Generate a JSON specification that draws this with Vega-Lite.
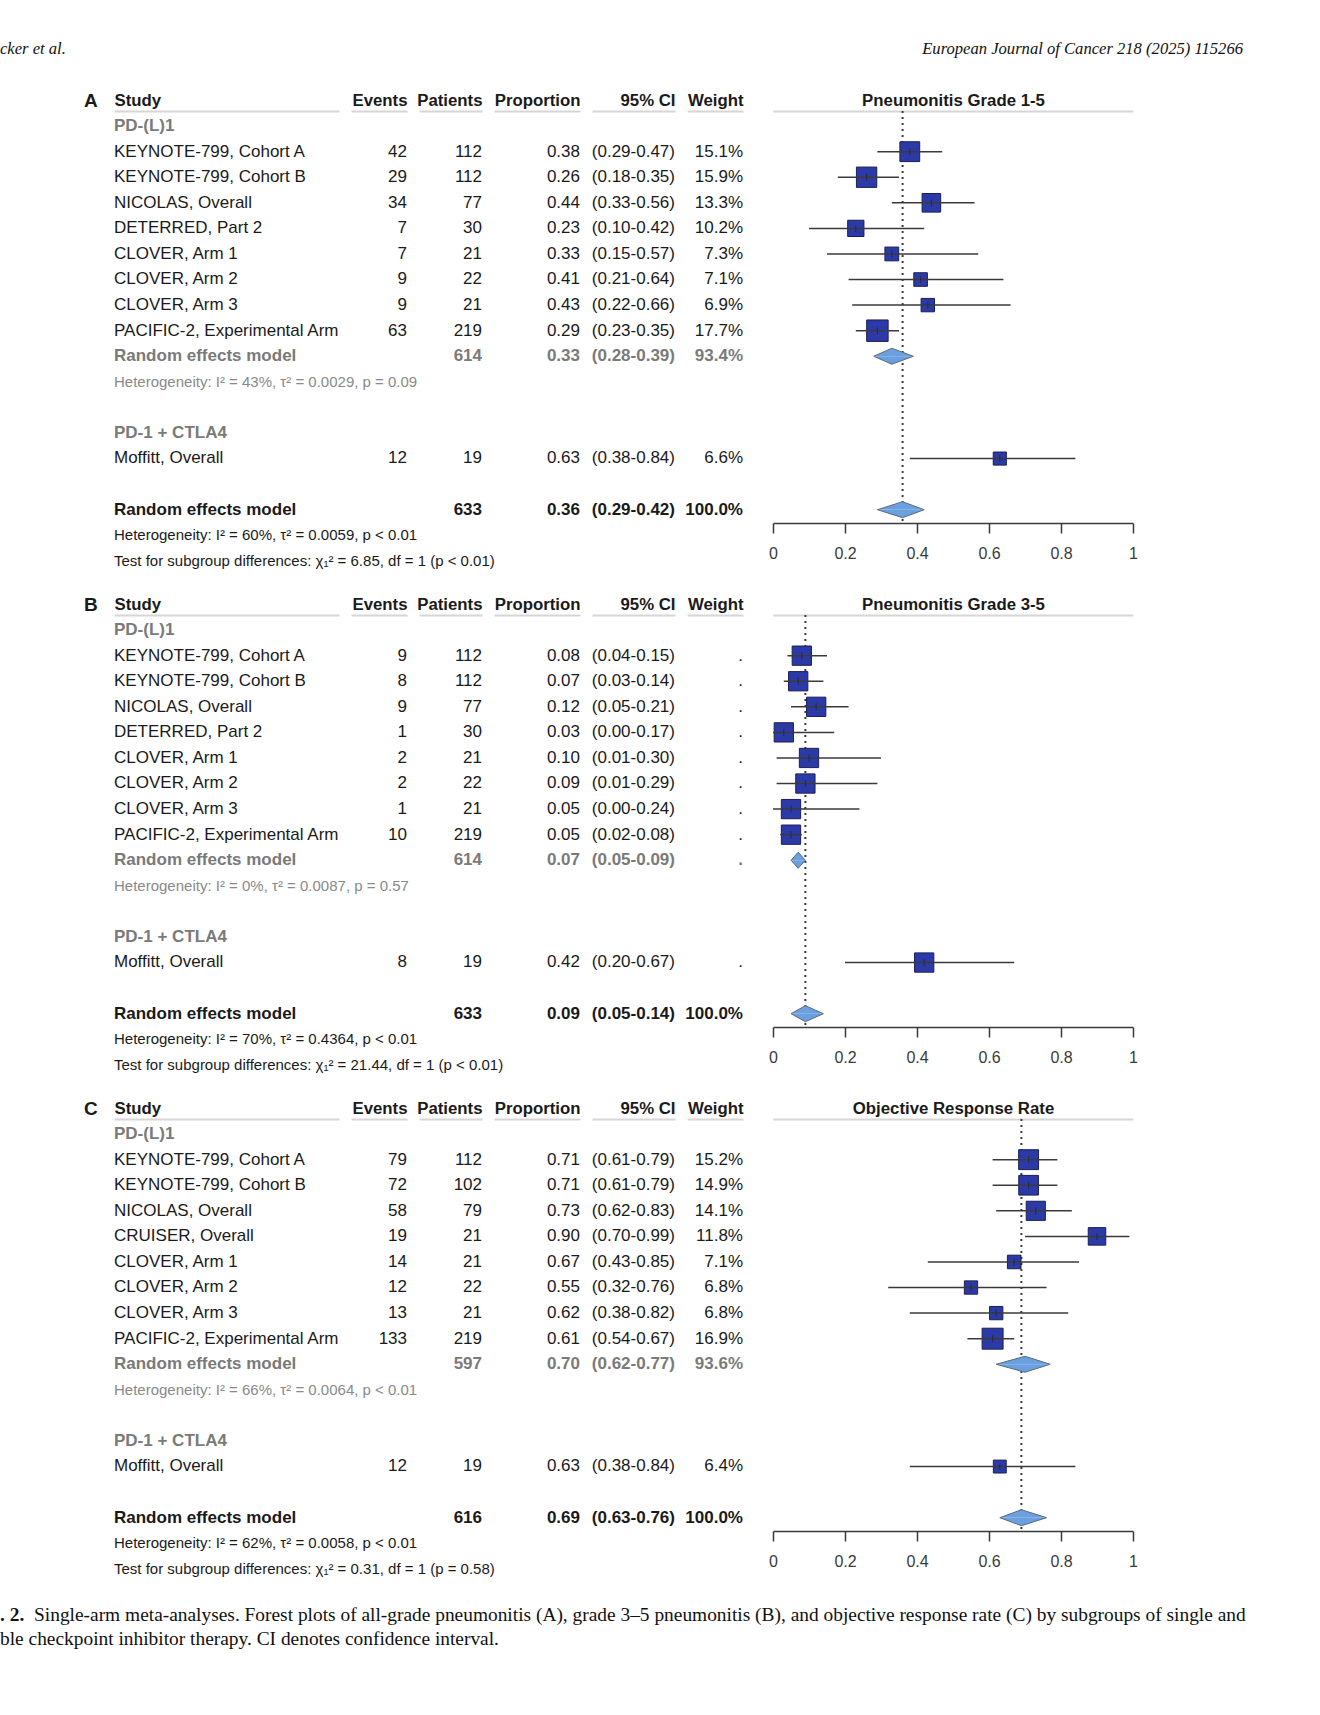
{
"$schema":"https://vega.github.io/schema/vega-lite/v6.json",
"padding":{"left":0,"top":17,"right":0,"bottom":0},
"background":"white",
"config":{
 "view":{"stroke":null},
 "font":"Liberation Sans",
 "text":{"baseline":"middle","font":"Liberation Sans","fontSize":17,"fill":"#1a1a1a"},
 "axisTop":{"labels":false,"ticks":false,"domainColor":"#d6d6d6","domainWidth":2,"grid":false,"titleFontSize":16.8,"titleFontWeight":"bold","titleColor":"#1a1a1a","titlePadding":6,"titleBaseline":"alphabetic","titleFont":"Liberation Sans"},
 "axisBottom":{"domainColor":"#3a3a3a","domainWidth":1.5,"tickColor":"#3a3a3a","tickWidth":1.5,"tickSize":10,"labelFontSize":16,"labelColor":"#3a3a3a","labelPadding":12,"labelFlush":false,"grid":false,"labelFont":"Liberation Sans"}
},
"datasets":{
 "page":[
  {"part":"left","text":"cker et al."},
  {"part":"right","text":"European Journal of Cancer 218 (2025) 115266"},
  {"part":"cap1","line":1,"lead":". 2.","text":"Single-arm meta-analyses. Forest plots of all-grade pneumonitis (A), grade 3–5 pneumonitis (B), and objective response rate (C) by subgroups of single and"},
  {"part":"cap2","line":2,"text":"ble checkpoint inhibitor therapy. CI denotes confidence interval."}
 ],
 "A":[
  {"row":0,"type":"letter","study":"A"},
  {"row":1,"type":"group","study":"PD-(L)1"},
  {"row":2,"type":"study","study":"KEYNOTE-799, Cohort A","events":42,"patients":112,"est":0.38,"lo":0.29,"hi":0.47,"ci":"(0.29-0.47)","weight":"15.1%","w":15.1},
  {"row":3,"type":"study","study":"KEYNOTE-799, Cohort B","events":29,"patients":112,"est":0.26,"lo":0.18,"hi":0.35,"ci":"(0.18-0.35)","weight":"15.9%","w":15.9},
  {"row":4,"type":"study","study":"NICOLAS, Overall","events":34,"patients":77,"est":0.44,"lo":0.33,"hi":0.56,"ci":"(0.33-0.56)","weight":"13.3%","w":13.3},
  {"row":5,"type":"study","study":"DETERRED, Part 2","events":7,"patients":30,"est":0.23,"lo":0.10,"hi":0.42,"ci":"(0.10-0.42)","weight":"10.2%","w":10.2},
  {"row":6,"type":"study","study":"CLOVER, Arm 1","events":7,"patients":21,"est":0.33,"lo":0.15,"hi":0.57,"ci":"(0.15-0.57)","weight":"7.3%","w":7.3},
  {"row":7,"type":"study","study":"CLOVER, Arm 2","events":9,"patients":22,"est":0.41,"lo":0.21,"hi":0.64,"ci":"(0.21-0.64)","weight":"7.1%","w":7.1},
  {"row":8,"type":"study","study":"CLOVER, Arm 3","events":9,"patients":21,"est":0.43,"lo":0.22,"hi":0.66,"ci":"(0.22-0.66)","weight":"6.9%","w":6.9},
  {"row":9,"type":"study","study":"PACIFIC-2, Experimental Arm","events":63,"patients":219,"est":0.29,"lo":0.23,"hi":0.35,"ci":"(0.23-0.35)","weight":"17.7%","w":17.7},
  {"row":10,"type":"submodel","study":"Random effects model","patients":614,"est":0.33,"lo":0.28,"hi":0.39,"ci":"(0.28-0.39)","weight":"93.4%"},
  {"row":11,"type":"subhet","study":"Heterogeneity: I² = 43%, τ² = 0.0029, p = 0.09"},
  {"row":13,"type":"group","study":"PD-1 + CTLA4"},
  {"row":14,"type":"study","study":"Moffitt, Overall","events":12,"patients":19,"est":0.63,"lo":0.38,"hi":0.84,"ci":"(0.38-0.84)","weight":"6.6%","w":6.6},
  {"row":16,"type":"model","study":"Random effects model","patients":633,"est":0.36,"lo":0.29,"hi":0.42,"ci":"(0.29-0.42)","weight":"100.0%"},
  {"row":17,"type":"het","study":"Heterogeneity: I² = 60%, τ² = 0.0059, p < 0.01"},
  {"row":18,"type":"test","study":"Test for subgroup differences: χ₁² = 6.85, df = 1 (p < 0.01)"}
 ],
 "B":[
  {"row":0,"type":"letter","study":"B"},
  {"row":1,"type":"group","study":"PD-(L)1"},
  {"row":2,"type":"study","study":"KEYNOTE-799, Cohort A","events":9,"patients":112,"est":0.08,"lo":0.04,"hi":0.15,"ci":"(0.04-0.15)","weight":".","w":14.3},
  {"row":3,"type":"study","study":"KEYNOTE-799, Cohort B","events":8,"patients":112,"est":0.07,"lo":0.03,"hi":0.14,"ci":"(0.03-0.14)","weight":".","w":14.3},
  {"row":4,"type":"study","study":"NICOLAS, Overall","events":9,"patients":77,"est":0.12,"lo":0.05,"hi":0.21,"ci":"(0.05-0.21)","weight":".","w":14.3},
  {"row":5,"type":"study","study":"DETERRED, Part 2","events":1,"patients":30,"est":0.03,"lo":0.00,"hi":0.17,"ci":"(0.00-0.17)","weight":".","w":14.3},
  {"row":6,"type":"study","study":"CLOVER, Arm 1","events":2,"patients":21,"est":0.10,"lo":0.01,"hi":0.30,"ci":"(0.01-0.30)","weight":".","w":14.3},
  {"row":7,"type":"study","study":"CLOVER, Arm 2","events":2,"patients":22,"est":0.09,"lo":0.01,"hi":0.29,"ci":"(0.01-0.29)","weight":".","w":14.3},
  {"row":8,"type":"study","study":"CLOVER, Arm 3","events":1,"patients":21,"est":0.05,"lo":0.00,"hi":0.24,"ci":"(0.00-0.24)","weight":".","w":14.3},
  {"row":9,"type":"study","study":"PACIFIC-2, Experimental Arm","events":10,"patients":219,"est":0.05,"lo":0.02,"hi":0.08,"ci":"(0.02-0.08)","weight":".","w":14.3},
  {"row":10,"type":"submodel","study":"Random effects model","patients":614,"est":0.07,"lo":0.05,"hi":0.09,"ci":"(0.05-0.09)","weight":"."},
  {"row":11,"type":"subhet","study":"Heterogeneity: I² = 0%, τ² = 0.0087, p = 0.57"},
  {"row":13,"type":"group","study":"PD-1 + CTLA4"},
  {"row":14,"type":"study","study":"Moffitt, Overall","events":8,"patients":19,"est":0.42,"lo":0.20,"hi":0.67,"ci":"(0.20-0.67)","weight":".","w":14.3},
  {"row":16,"type":"model","study":"Random effects model","patients":633,"est":0.09,"lo":0.05,"hi":0.14,"ci":"(0.05-0.14)","weight":"100.0%"},
  {"row":17,"type":"het","study":"Heterogeneity: I² = 70%, τ² = 0.4364, p < 0.01"},
  {"row":18,"type":"test","study":"Test for subgroup differences: χ₁² = 21.44, df = 1 (p < 0.01)"}
 ],
 "C":[
  {"row":0,"type":"letter","study":"C"},
  {"row":1,"type":"group","study":"PD-(L)1"},
  {"row":2,"type":"study","study":"KEYNOTE-799, Cohort A","events":79,"patients":112,"est":0.71,"lo":0.61,"hi":0.79,"ci":"(0.61-0.79)","weight":"15.2%","w":15.2},
  {"row":3,"type":"study","study":"KEYNOTE-799, Cohort B","events":72,"patients":102,"est":0.71,"lo":0.61,"hi":0.79,"ci":"(0.61-0.79)","weight":"14.9%","w":14.9},
  {"row":4,"type":"study","study":"NICOLAS, Overall","events":58,"patients":79,"est":0.73,"lo":0.62,"hi":0.83,"ci":"(0.62-0.83)","weight":"14.1%","w":14.1},
  {"row":5,"type":"study","study":"CRUISER, Overall","events":19,"patients":21,"est":0.90,"lo":0.70,"hi":0.99,"ci":"(0.70-0.99)","weight":"11.8%","w":11.8},
  {"row":6,"type":"study","study":"CLOVER, Arm 1","events":14,"patients":21,"est":0.67,"lo":0.43,"hi":0.85,"ci":"(0.43-0.85)","weight":"7.1%","w":7.1},
  {"row":7,"type":"study","study":"CLOVER, Arm 2","events":12,"patients":22,"est":0.55,"lo":0.32,"hi":0.76,"ci":"(0.32-0.76)","weight":"6.8%","w":6.8},
  {"row":8,"type":"study","study":"CLOVER, Arm 3","events":13,"patients":21,"est":0.62,"lo":0.38,"hi":0.82,"ci":"(0.38-0.82)","weight":"6.8%","w":6.8},
  {"row":9,"type":"study","study":"PACIFIC-2, Experimental Arm","events":133,"patients":219,"est":0.61,"lo":0.54,"hi":0.67,"ci":"(0.54-0.67)","weight":"16.9%","w":16.9},
  {"row":10,"type":"submodel","study":"Random effects model","patients":597,"est":0.70,"lo":0.62,"hi":0.77,"ci":"(0.62-0.77)","weight":"93.6%"},
  {"row":11,"type":"subhet","study":"Heterogeneity: I² = 66%, τ² = 0.0064, p < 0.01"},
  {"row":13,"type":"group","study":"PD-1 + CTLA4"},
  {"row":14,"type":"study","study":"Moffitt, Overall","events":12,"patients":19,"est":0.63,"lo":0.38,"hi":0.84,"ci":"(0.38-0.84)","weight":"6.4%","w":6.4},
  {"row":16,"type":"model","study":"Random effects model","patients":616,"est":0.69,"lo":0.63,"hi":0.76,"ci":"(0.63-0.76)","weight":"100.0%"},
  {"row":17,"type":"het","study":"Heterogeneity: I² = 62%, τ² = 0.0058, p < 0.01"},
  {"row":18,"type":"test","study":"Test for subgroup differences: χ₁² = 0.31, df = 1 (p = 0.58)"}
 ]
},
"spacing":10,
"resolve":{"scale":{"x":"independent","y":"independent"}},
"vconcat":[
 {"width":1243,"height":64,"data":{"name":"page"},
  "layer":[
   {"transform":[{"filter":"datum.part=='left'"}],"mark":{"type":"text","align":"left","font":"Liberation Serif","fontStyle":"italic","fontSize":16.6,"fill":"#111"},"encoding":{"text":{"field":"text"},"x":{"datum":0,"type":"quantitative","scale":{"domain":[0,1]},"axis":null}}},
   {"transform":[{"filter":"datum.part=='right'"}],"mark":{"type":"text","align":"right","font":"Liberation Serif","fontStyle":"italic","fontSize":16.6,"fill":"#111"},"encoding":{"text":{"field":"text"},"x":{"datum":1,"type":"quantitative","scale":{"domain":[0,1]},"axis":null}}}
  ]},
 {"vconcat":[
  {"hconcat":[
    {"width":102,"height":465,"data":{"name":"A"},"transform":[{"filter":"datum.type=='letter'"}],"mark":{"type":"text","fontSize":19,"fontWeight":"bold","align":"center"},"encoding":{"text":{"field":"study"},"x":{"datum":0.89,"type":"quantitative","scale":{"domain":[0,1]},"axis":null},"y":{"field":"row","type":"quantitative","scale":{"domain":[0.41,18.6],"reverse":true,"nice":false,"zero":false},"axis":null}}},
    {"width":225,"height":465,"data":{"name":"A"},
     "encoding":{"x":{"datum":0,"type":"quantitative","scale":{"domain":[0,1]},"axis":{"orient":"top","title":"Study","titleAnchor":"start","titleAlign":"left"}},"y":{"field":"row","type":"quantitative","scale":{"domain":[0.41,18.6],"reverse":true,"nice":false,"zero":false},"axis":null}},
     "layer":[
      {"transform":[{"filter":"datum.type=='study'"}],"mark":{"type":"text","align":"left"},"encoding":{"text":{"field":"study"}}},
      {"transform":[{"filter":"datum.type=='group'||datum.type=='submodel'"}],"mark":{"type":"text","align":"left","fontWeight":"bold","fill":"#7a7a7a"},"encoding":{"text":{"field":"study"}}},
      {"transform":[{"filter":"datum.type=='model'"}],"mark":{"type":"text","align":"left","fontWeight":"bold"},"encoding":{"text":{"field":"study"}}},
      {"transform":[{"filter":"datum.type=='subhet'"}],"mark":{"type":"text","align":"left","fontSize":15,"fill":"#8a8a8a"},"encoding":{"text":{"field":"study"}}},
      {"transform":[{"filter":"datum.type=='het'||datum.type=='test'"}],"mark":{"type":"text","align":"left","fontSize":15},"encoding":{"text":{"field":"study"}}}
     ]},
    {"width":56,"height":465,"data":{"name":"A"},
     "encoding":{"x":{"datum":1,"type":"quantitative","scale":{"domain":[0,1]},"axis":{"orient":"top","title":"Events","titleAnchor":"end","titleAlign":"right"}},"y":{"field":"row","type":"quantitative","scale":{"domain":[0.41,18.6],"reverse":true,"nice":false,"zero":false},"axis":null}},
     "layer":[
      {"transform":[{"filter":"datum.type=='study'"}],"mark":{"type":"text","align":"right"},"encoding":{"text":{"field":"events"}}}
     ]},
    {"width":63,"height":465,"data":{"name":"A"},
     "encoding":{"x":{"datum":1,"type":"quantitative","scale":{"domain":[0,1]},"axis":{"orient":"top","title":"Patients","titleAnchor":"end","titleAlign":"right"}},"y":{"field":"row","type":"quantitative","scale":{"domain":[0.41,18.6],"reverse":true,"nice":false,"zero":false},"axis":null}},
     "layer":[
      {"transform":[{"filter":"datum.type=='study'"}],"mark":{"type":"text","align":"right"},"encoding":{"text":{"field":"patients"}}},
      {"transform":[{"filter":"datum.type=='submodel'"}],"mark":{"type":"text","align":"right","fontWeight":"bold","fill":"#7a7a7a"},"encoding":{"text":{"field":"patients"}}},
      {"transform":[{"filter":"datum.type=='model'"}],"mark":{"type":"text","align":"right","fontWeight":"bold"},"encoding":{"text":{"field":"patients"}}}
     ]},
    {"width":86,"height":465,"data":{"name":"A"},
     "encoding":{"x":{"datum":1,"type":"quantitative","scale":{"domain":[0,1]},"axis":{"orient":"top","title":"Proportion","titleAnchor":"end","titleAlign":"right"}},"y":{"field":"row","type":"quantitative","scale":{"domain":[0.41,18.6],"reverse":true,"nice":false,"zero":false},"axis":null}},
     "layer":[
      {"transform":[{"filter":"datum.type=='study'"}],"mark":{"type":"text","align":"right"},"encoding":{"text":{"field":"est","type":"quantitative","format":".2f"}}},
      {"transform":[{"filter":"datum.type=='submodel'"}],"mark":{"type":"text","align":"right","fontWeight":"bold","fill":"#7a7a7a"},"encoding":{"text":{"field":"est","type":"quantitative","format":".2f"}}},
      {"transform":[{"filter":"datum.type=='model'"}],"mark":{"type":"text","align":"right","fontWeight":"bold"},"encoding":{"text":{"field":"est","type":"quantitative","format":".2f"}}}
     ]},
    {"width":83,"height":465,"data":{"name":"A"},
     "encoding":{"x":{"datum":1,"type":"quantitative","scale":{"domain":[0,1]},"axis":{"orient":"top","title":"95% CI","titleAnchor":"end","titleAlign":"right"}},"y":{"field":"row","type":"quantitative","scale":{"domain":[0.41,18.6],"reverse":true,"nice":false,"zero":false},"axis":null}},
     "layer":[
      {"transform":[{"filter":"datum.type=='study'"}],"mark":{"type":"text","align":"right"},"encoding":{"text":{"field":"ci"}}},
      {"transform":[{"filter":"datum.type=='submodel'"}],"mark":{"type":"text","align":"right","fontWeight":"bold","fill":"#7a7a7a"},"encoding":{"text":{"field":"ci"}}},
      {"transform":[{"filter":"datum.type=='model'"}],"mark":{"type":"text","align":"right","fontWeight":"bold"},"encoding":{"text":{"field":"ci"}}}
     ]},
    {"width":56,"height":465,"data":{"name":"A"},
     "encoding":{"x":{"datum":1,"type":"quantitative","scale":{"domain":[0,1]},"axis":{"orient":"top","title":"Weight","titleAnchor":"end","titleAlign":"right"}},"y":{"field":"row","type":"quantitative","scale":{"domain":[0.41,18.6],"reverse":true,"nice":false,"zero":false},"axis":null}},
     "layer":[
      {"transform":[{"filter":"datum.type=='study'"}],"mark":{"type":"text","align":"right"},"encoding":{"text":{"field":"weight"}}},
      {"transform":[{"filter":"datum.type=='submodel'"}],"mark":{"type":"text","align":"right","fontWeight":"bold","fill":"#7a7a7a"},"encoding":{"text":{"field":"weight"}}},
      {"transform":[{"filter":"datum.type=='model'"}],"mark":{"type":"text","align":"right","fontWeight":"bold"},"encoding":{"text":{"field":"weight"}}}
     ]},
    {"width":6,"height":10,"data":{"values":[{}]},"mark":{"type":"text"},"encoding":{"text":{"value":""}}},
   {"width":360,"height":412,"data":{"name":"A"},
    "resolve":{"axis":{"x":"independent"},"scale":{"size":"independent"}},
    "layer":[
     {"transform":[{"filter":"datum.type=='model'"}],"mark":{"type":"rule","strokeDash":[2,4],"color":"#3a3a3a","strokeWidth":2},
      "encoding":{"x":{"field":"est","type":"quantitative","scale":{"domain":[0,1],"nice":false,"zero":false},"axis":{"orient":"top","title":"Pneumonitis Grade 1-5"}}}},
     {"transform":[{"filter":"datum.type=='study'"}],"mark":{"type":"point","shape":"square","filled":true,"color":"#2b3aa6","stroke":"#1b1f55","strokeWidth":1,"opacity":1},
      "encoding":{"x":{"field":"est","type":"quantitative","scale":{"domain":[0,1],"nice":false,"zero":false},"axis":{"orient":"bottom","values":[0,0.2,0.4,0.6,0.8,1],"format":"~g","title":null}},
       "y":{"field":"row","type":"quantitative","scale":{"domain":[0.41,16.52],"reverse":true,"nice":false,"zero":false},"axis":null},
       "size":{"field":"w","type":"quantitative","scale":{"type":"linear","domain":[0,20],"range":[0,520]},"legend":null}}},
     {"transform":[{"filter":"datum.type=='study'"}],"mark":{"type":"rule","color":"#3a3a3a","strokeWidth":1.5},
      "encoding":{"x":{"field":"lo","type":"quantitative","scale":{"domain":[0,1],"nice":false,"zero":false},"axis":null},"x2":{"field":"hi"},
       "y":{"field":"row","type":"quantitative","scale":{"domain":[0.41,16.52],"reverse":true,"nice":false,"zero":false},"axis":null}}},
     {"transform":[{"filter":"datum.type=='study'"}],"mark":{"type":"tick","orient":"vertical","color":"#222","thickness":1,"size":7},
      "encoding":{"x":{"field":"est","type":"quantitative","scale":{"domain":[0,1],"nice":false,"zero":false},"axis":null},
       "y":{"field":"row","type":"quantitative","scale":{"domain":[0.41,16.52],"reverse":true,"nice":false,"zero":false},"axis":null}}},
     {"transform":[{"filter":"datum.type=='submodel'||datum.type=='model'"},{"fold":["lo","est","hi"],"as":["k","v"]}],
      "mark":{"type":"line","filled":true,"interpolate":"linear-closed","color":"#6a9fe0","strokeWidth":0,"yOffset":{"expr":"datum.k=='est'?-8:0"}},
      "encoding":{"x":{"field":"v","type":"quantitative","scale":{"domain":[0,1],"nice":false,"zero":false},"axis":null},
       "y":{"field":"row","type":"quantitative","scale":{"domain":[0.41,16.52],"reverse":true,"nice":false,"zero":false},"axis":null},
       "detail":{"field":"row"},"order":{"field":"v","type":"quantitative"}}},
     {"transform":[{"filter":"datum.type=='submodel'||datum.type=='model'"},{"fold":["lo","est","hi"],"as":["k","v"]}],
      "mark":{"type":"line","filled":true,"interpolate":"linear-closed","color":"#6a9fe0","strokeWidth":0,"yOffset":{"expr":"datum.k=='est'?8:0"}},
      "encoding":{"x":{"field":"v","type":"quantitative","scale":{"domain":[0,1],"nice":false,"zero":false},"axis":null},
       "y":{"field":"row","type":"quantitative","scale":{"domain":[0.41,16.52],"reverse":true,"nice":false,"zero":false},"axis":null},
       "detail":{"field":"row"},"order":{"field":"v","type":"quantitative"}}},
     {"transform":[{"filter":"datum.type=='submodel'||datum.type=='model'"},{"fold":["lo","est","hi"],"as":["k","v"]}],
      "mark":{"type":"line","color":"#5d6b7a","strokeWidth":1,"yOffset":{"expr":"datum.k=='est'?-8:0"}},
      "encoding":{"x":{"field":"v","type":"quantitative","scale":{"domain":[0,1],"nice":false,"zero":false},"axis":null},
       "y":{"field":"row","type":"quantitative","scale":{"domain":[0.41,16.52],"reverse":true,"nice":false,"zero":false},"axis":null},
       "detail":{"field":"row"},"order":{"field":"v","type":"quantitative"}}},
     {"transform":[{"filter":"datum.type=='submodel'||datum.type=='model'"},{"fold":["lo","est","hi"],"as":["k","v"]}],
      "mark":{"type":"line","color":"#5d6b7a","strokeWidth":1,"yOffset":{"expr":"datum.k=='est'?8:0"}},
      "encoding":{"x":{"field":"v","type":"quantitative","scale":{"domain":[0,1],"nice":false,"zero":false},"axis":null},
       "y":{"field":"row","type":"quantitative","scale":{"domain":[0.41,16.52],"reverse":true,"nice":false,"zero":false},"axis":null},
       "detail":{"field":"row"},"order":{"field":"v","type":"quantitative"}}}
    ]}
  ],"spacing":12,"bounds":"flush","resolve":{"scale":{"x":"independent","y":"independent"}}},

  {"hconcat":[
    {"width":102,"height":465,"data":{"name":"B"},"transform":[{"filter":"datum.type=='letter'"}],"mark":{"type":"text","fontSize":19,"fontWeight":"bold","align":"center"},"encoding":{"text":{"field":"study"},"x":{"datum":0.89,"type":"quantitative","scale":{"domain":[0,1]},"axis":null},"y":{"field":"row","type":"quantitative","scale":{"domain":[0.41,18.6],"reverse":true,"nice":false,"zero":false},"axis":null}}},
    {"width":225,"height":465,"data":{"name":"B"},
     "encoding":{"x":{"datum":0,"type":"quantitative","scale":{"domain":[0,1]},"axis":{"orient":"top","title":"Study","titleAnchor":"start","titleAlign":"left"}},"y":{"field":"row","type":"quantitative","scale":{"domain":[0.41,18.6],"reverse":true,"nice":false,"zero":false},"axis":null}},
     "layer":[
      {"transform":[{"filter":"datum.type=='study'"}],"mark":{"type":"text","align":"left"},"encoding":{"text":{"field":"study"}}},
      {"transform":[{"filter":"datum.type=='group'||datum.type=='submodel'"}],"mark":{"type":"text","align":"left","fontWeight":"bold","fill":"#7a7a7a"},"encoding":{"text":{"field":"study"}}},
      {"transform":[{"filter":"datum.type=='model'"}],"mark":{"type":"text","align":"left","fontWeight":"bold"},"encoding":{"text":{"field":"study"}}},
      {"transform":[{"filter":"datum.type=='subhet'"}],"mark":{"type":"text","align":"left","fontSize":15,"fill":"#8a8a8a"},"encoding":{"text":{"field":"study"}}},
      {"transform":[{"filter":"datum.type=='het'||datum.type=='test'"}],"mark":{"type":"text","align":"left","fontSize":15},"encoding":{"text":{"field":"study"}}}
     ]},
    {"width":56,"height":465,"data":{"name":"B"},
     "encoding":{"x":{"datum":1,"type":"quantitative","scale":{"domain":[0,1]},"axis":{"orient":"top","title":"Events","titleAnchor":"end","titleAlign":"right"}},"y":{"field":"row","type":"quantitative","scale":{"domain":[0.41,18.6],"reverse":true,"nice":false,"zero":false},"axis":null}},
     "layer":[
      {"transform":[{"filter":"datum.type=='study'"}],"mark":{"type":"text","align":"right"},"encoding":{"text":{"field":"events"}}}
     ]},
    {"width":63,"height":465,"data":{"name":"B"},
     "encoding":{"x":{"datum":1,"type":"quantitative","scale":{"domain":[0,1]},"axis":{"orient":"top","title":"Patients","titleAnchor":"end","titleAlign":"right"}},"y":{"field":"row","type":"quantitative","scale":{"domain":[0.41,18.6],"reverse":true,"nice":false,"zero":false},"axis":null}},
     "layer":[
      {"transform":[{"filter":"datum.type=='study'"}],"mark":{"type":"text","align":"right"},"encoding":{"text":{"field":"patients"}}},
      {"transform":[{"filter":"datum.type=='submodel'"}],"mark":{"type":"text","align":"right","fontWeight":"bold","fill":"#7a7a7a"},"encoding":{"text":{"field":"patients"}}},
      {"transform":[{"filter":"datum.type=='model'"}],"mark":{"type":"text","align":"right","fontWeight":"bold"},"encoding":{"text":{"field":"patients"}}}
     ]},
    {"width":86,"height":465,"data":{"name":"B"},
     "encoding":{"x":{"datum":1,"type":"quantitative","scale":{"domain":[0,1]},"axis":{"orient":"top","title":"Proportion","titleAnchor":"end","titleAlign":"right"}},"y":{"field":"row","type":"quantitative","scale":{"domain":[0.41,18.6],"reverse":true,"nice":false,"zero":false},"axis":null}},
     "layer":[
      {"transform":[{"filter":"datum.type=='study'"}],"mark":{"type":"text","align":"right"},"encoding":{"text":{"field":"est","type":"quantitative","format":".2f"}}},
      {"transform":[{"filter":"datum.type=='submodel'"}],"mark":{"type":"text","align":"right","fontWeight":"bold","fill":"#7a7a7a"},"encoding":{"text":{"field":"est","type":"quantitative","format":".2f"}}},
      {"transform":[{"filter":"datum.type=='model'"}],"mark":{"type":"text","align":"right","fontWeight":"bold"},"encoding":{"text":{"field":"est","type":"quantitative","format":".2f"}}}
     ]},
    {"width":83,"height":465,"data":{"name":"B"},
     "encoding":{"x":{"datum":1,"type":"quantitative","scale":{"domain":[0,1]},"axis":{"orient":"top","title":"95% CI","titleAnchor":"end","titleAlign":"right"}},"y":{"field":"row","type":"quantitative","scale":{"domain":[0.41,18.6],"reverse":true,"nice":false,"zero":false},"axis":null}},
     "layer":[
      {"transform":[{"filter":"datum.type=='study'"}],"mark":{"type":"text","align":"right"},"encoding":{"text":{"field":"ci"}}},
      {"transform":[{"filter":"datum.type=='submodel'"}],"mark":{"type":"text","align":"right","fontWeight":"bold","fill":"#7a7a7a"},"encoding":{"text":{"field":"ci"}}},
      {"transform":[{"filter":"datum.type=='model'"}],"mark":{"type":"text","align":"right","fontWeight":"bold"},"encoding":{"text":{"field":"ci"}}}
     ]},
    {"width":56,"height":465,"data":{"name":"B"},
     "encoding":{"x":{"datum":1,"type":"quantitative","scale":{"domain":[0,1]},"axis":{"orient":"top","title":"Weight","titleAnchor":"end","titleAlign":"right"}},"y":{"field":"row","type":"quantitative","scale":{"domain":[0.41,18.6],"reverse":true,"nice":false,"zero":false},"axis":null}},
     "layer":[
      {"transform":[{"filter":"datum.type=='study'"}],"mark":{"type":"text","align":"right"},"encoding":{"text":{"field":"weight"}}},
      {"transform":[{"filter":"datum.type=='submodel'"}],"mark":{"type":"text","align":"right","fontWeight":"bold","fill":"#7a7a7a"},"encoding":{"text":{"field":"weight"}}},
      {"transform":[{"filter":"datum.type=='model'"}],"mark":{"type":"text","align":"right","fontWeight":"bold"},"encoding":{"text":{"field":"weight"}}}
     ]},
    {"width":6,"height":10,"data":{"values":[{}]},"mark":{"type":"text"},"encoding":{"text":{"value":""}}},
   {"width":360,"height":412,"data":{"name":"B"},
    "resolve":{"axis":{"x":"independent"},"scale":{"size":"independent"}},
    "layer":[
     {"transform":[{"filter":"datum.type=='model'"}],"mark":{"type":"rule","strokeDash":[2,4],"color":"#3a3a3a","strokeWidth":2},
      "encoding":{"x":{"field":"est","type":"quantitative","scale":{"domain":[0,1],"nice":false,"zero":false},"axis":{"orient":"top","title":"Pneumonitis Grade 3-5"}}}},
     {"transform":[{"filter":"datum.type=='study'"}],"mark":{"type":"point","shape":"square","filled":true,"color":"#2b3aa6","stroke":"#1b1f55","strokeWidth":1,"opacity":1},
      "encoding":{"x":{"field":"est","type":"quantitative","scale":{"domain":[0,1],"nice":false,"zero":false},"axis":{"orient":"bottom","values":[0,0.2,0.4,0.6,0.8,1],"format":"~g","title":null}},
       "y":{"field":"row","type":"quantitative","scale":{"domain":[0.41,16.52],"reverse":true,"nice":false,"zero":false},"axis":null},
       "size":{"field":"w","type":"quantitative","scale":{"type":"linear","domain":[0,20],"range":[0,520]},"legend":null}}},
     {"transform":[{"filter":"datum.type=='study'"}],"mark":{"type":"rule","color":"#3a3a3a","strokeWidth":1.5},
      "encoding":{"x":{"field":"lo","type":"quantitative","scale":{"domain":[0,1],"nice":false,"zero":false},"axis":null},"x2":{"field":"hi"},
       "y":{"field":"row","type":"quantitative","scale":{"domain":[0.41,16.52],"reverse":true,"nice":false,"zero":false},"axis":null}}},
     {"transform":[{"filter":"datum.type=='study'"}],"mark":{"type":"tick","orient":"vertical","color":"#222","thickness":1,"size":7},
      "encoding":{"x":{"field":"est","type":"quantitative","scale":{"domain":[0,1],"nice":false,"zero":false},"axis":null},
       "y":{"field":"row","type":"quantitative","scale":{"domain":[0.41,16.52],"reverse":true,"nice":false,"zero":false},"axis":null}}},
     {"transform":[{"filter":"datum.type=='submodel'||datum.type=='model'"},{"fold":["lo","est","hi"],"as":["k","v"]}],
      "mark":{"type":"line","filled":true,"interpolate":"linear-closed","color":"#6a9fe0","strokeWidth":0,"yOffset":{"expr":"datum.k=='est'?-8:0"}},
      "encoding":{"x":{"field":"v","type":"quantitative","scale":{"domain":[0,1],"nice":false,"zero":false},"axis":null},
       "y":{"field":"row","type":"quantitative","scale":{"domain":[0.41,16.52],"reverse":true,"nice":false,"zero":false},"axis":null},
       "detail":{"field":"row"},"order":{"field":"v","type":"quantitative"}}},
     {"transform":[{"filter":"datum.type=='submodel'||datum.type=='model'"},{"fold":["lo","est","hi"],"as":["k","v"]}],
      "mark":{"type":"line","filled":true,"interpolate":"linear-closed","color":"#6a9fe0","strokeWidth":0,"yOffset":{"expr":"datum.k=='est'?8:0"}},
      "encoding":{"x":{"field":"v","type":"quantitative","scale":{"domain":[0,1],"nice":false,"zero":false},"axis":null},
       "y":{"field":"row","type":"quantitative","scale":{"domain":[0.41,16.52],"reverse":true,"nice":false,"zero":false},"axis":null},
       "detail":{"field":"row"},"order":{"field":"v","type":"quantitative"}}},
     {"transform":[{"filter":"datum.type=='submodel'||datum.type=='model'"},{"fold":["lo","est","hi"],"as":["k","v"]}],
      "mark":{"type":"line","color":"#5d6b7a","strokeWidth":1,"yOffset":{"expr":"datum.k=='est'?-8:0"}},
      "encoding":{"x":{"field":"v","type":"quantitative","scale":{"domain":[0,1],"nice":false,"zero":false},"axis":null},
       "y":{"field":"row","type":"quantitative","scale":{"domain":[0.41,16.52],"reverse":true,"nice":false,"zero":false},"axis":null},
       "detail":{"field":"row"},"order":{"field":"v","type":"quantitative"}}},
     {"transform":[{"filter":"datum.type=='submodel'||datum.type=='model'"},{"fold":["lo","est","hi"],"as":["k","v"]}],
      "mark":{"type":"line","color":"#5d6b7a","strokeWidth":1,"yOffset":{"expr":"datum.k=='est'?8:0"}},
      "encoding":{"x":{"field":"v","type":"quantitative","scale":{"domain":[0,1],"nice":false,"zero":false},"axis":null},
       "y":{"field":"row","type":"quantitative","scale":{"domain":[0.41,16.52],"reverse":true,"nice":false,"zero":false},"axis":null},
       "detail":{"field":"row"},"order":{"field":"v","type":"quantitative"}}}
    ]}
  ],"spacing":12,"bounds":"flush","resolve":{"scale":{"x":"independent","y":"independent"}}},

  {"hconcat":[
    {"width":102,"height":465,"data":{"name":"C"},"transform":[{"filter":"datum.type=='letter'"}],"mark":{"type":"text","fontSize":19,"fontWeight":"bold","align":"center"},"encoding":{"text":{"field":"study"},"x":{"datum":0.89,"type":"quantitative","scale":{"domain":[0,1]},"axis":null},"y":{"field":"row","type":"quantitative","scale":{"domain":[0.41,18.6],"reverse":true,"nice":false,"zero":false},"axis":null}}},
    {"width":225,"height":465,"data":{"name":"C"},
     "encoding":{"x":{"datum":0,"type":"quantitative","scale":{"domain":[0,1]},"axis":{"orient":"top","title":"Study","titleAnchor":"start","titleAlign":"left"}},"y":{"field":"row","type":"quantitative","scale":{"domain":[0.41,18.6],"reverse":true,"nice":false,"zero":false},"axis":null}},
     "layer":[
      {"transform":[{"filter":"datum.type=='study'"}],"mark":{"type":"text","align":"left"},"encoding":{"text":{"field":"study"}}},
      {"transform":[{"filter":"datum.type=='group'||datum.type=='submodel'"}],"mark":{"type":"text","align":"left","fontWeight":"bold","fill":"#7a7a7a"},"encoding":{"text":{"field":"study"}}},
      {"transform":[{"filter":"datum.type=='model'"}],"mark":{"type":"text","align":"left","fontWeight":"bold"},"encoding":{"text":{"field":"study"}}},
      {"transform":[{"filter":"datum.type=='subhet'"}],"mark":{"type":"text","align":"left","fontSize":15,"fill":"#8a8a8a"},"encoding":{"text":{"field":"study"}}},
      {"transform":[{"filter":"datum.type=='het'||datum.type=='test'"}],"mark":{"type":"text","align":"left","fontSize":15},"encoding":{"text":{"field":"study"}}}
     ]},
    {"width":56,"height":465,"data":{"name":"C"},
     "encoding":{"x":{"datum":1,"type":"quantitative","scale":{"domain":[0,1]},"axis":{"orient":"top","title":"Events","titleAnchor":"end","titleAlign":"right"}},"y":{"field":"row","type":"quantitative","scale":{"domain":[0.41,18.6],"reverse":true,"nice":false,"zero":false},"axis":null}},
     "layer":[
      {"transform":[{"filter":"datum.type=='study'"}],"mark":{"type":"text","align":"right"},"encoding":{"text":{"field":"events"}}}
     ]},
    {"width":63,"height":465,"data":{"name":"C"},
     "encoding":{"x":{"datum":1,"type":"quantitative","scale":{"domain":[0,1]},"axis":{"orient":"top","title":"Patients","titleAnchor":"end","titleAlign":"right"}},"y":{"field":"row","type":"quantitative","scale":{"domain":[0.41,18.6],"reverse":true,"nice":false,"zero":false},"axis":null}},
     "layer":[
      {"transform":[{"filter":"datum.type=='study'"}],"mark":{"type":"text","align":"right"},"encoding":{"text":{"field":"patients"}}},
      {"transform":[{"filter":"datum.type=='submodel'"}],"mark":{"type":"text","align":"right","fontWeight":"bold","fill":"#7a7a7a"},"encoding":{"text":{"field":"patients"}}},
      {"transform":[{"filter":"datum.type=='model'"}],"mark":{"type":"text","align":"right","fontWeight":"bold"},"encoding":{"text":{"field":"patients"}}}
     ]},
    {"width":86,"height":465,"data":{"name":"C"},
     "encoding":{"x":{"datum":1,"type":"quantitative","scale":{"domain":[0,1]},"axis":{"orient":"top","title":"Proportion","titleAnchor":"end","titleAlign":"right"}},"y":{"field":"row","type":"quantitative","scale":{"domain":[0.41,18.6],"reverse":true,"nice":false,"zero":false},"axis":null}},
     "layer":[
      {"transform":[{"filter":"datum.type=='study'"}],"mark":{"type":"text","align":"right"},"encoding":{"text":{"field":"est","type":"quantitative","format":".2f"}}},
      {"transform":[{"filter":"datum.type=='submodel'"}],"mark":{"type":"text","align":"right","fontWeight":"bold","fill":"#7a7a7a"},"encoding":{"text":{"field":"est","type":"quantitative","format":".2f"}}},
      {"transform":[{"filter":"datum.type=='model'"}],"mark":{"type":"text","align":"right","fontWeight":"bold"},"encoding":{"text":{"field":"est","type":"quantitative","format":".2f"}}}
     ]},
    {"width":83,"height":465,"data":{"name":"C"},
     "encoding":{"x":{"datum":1,"type":"quantitative","scale":{"domain":[0,1]},"axis":{"orient":"top","title":"95% CI","titleAnchor":"end","titleAlign":"right"}},"y":{"field":"row","type":"quantitative","scale":{"domain":[0.41,18.6],"reverse":true,"nice":false,"zero":false},"axis":null}},
     "layer":[
      {"transform":[{"filter":"datum.type=='study'"}],"mark":{"type":"text","align":"right"},"encoding":{"text":{"field":"ci"}}},
      {"transform":[{"filter":"datum.type=='submodel'"}],"mark":{"type":"text","align":"right","fontWeight":"bold","fill":"#7a7a7a"},"encoding":{"text":{"field":"ci"}}},
      {"transform":[{"filter":"datum.type=='model'"}],"mark":{"type":"text","align":"right","fontWeight":"bold"},"encoding":{"text":{"field":"ci"}}}
     ]},
    {"width":56,"height":465,"data":{"name":"C"},
     "encoding":{"x":{"datum":1,"type":"quantitative","scale":{"domain":[0,1]},"axis":{"orient":"top","title":"Weight","titleAnchor":"end","titleAlign":"right"}},"y":{"field":"row","type":"quantitative","scale":{"domain":[0.41,18.6],"reverse":true,"nice":false,"zero":false},"axis":null}},
     "layer":[
      {"transform":[{"filter":"datum.type=='study'"}],"mark":{"type":"text","align":"right"},"encoding":{"text":{"field":"weight"}}},
      {"transform":[{"filter":"datum.type=='submodel'"}],"mark":{"type":"text","align":"right","fontWeight":"bold","fill":"#7a7a7a"},"encoding":{"text":{"field":"weight"}}},
      {"transform":[{"filter":"datum.type=='model'"}],"mark":{"type":"text","align":"right","fontWeight":"bold"},"encoding":{"text":{"field":"weight"}}}
     ]},
    {"width":6,"height":10,"data":{"values":[{}]},"mark":{"type":"text"},"encoding":{"text":{"value":""}}},
   {"width":360,"height":412,"data":{"name":"C"},
    "resolve":{"axis":{"x":"independent"},"scale":{"size":"independent"}},
    "layer":[
     {"transform":[{"filter":"datum.type=='model'"}],"mark":{"type":"rule","strokeDash":[2,4],"color":"#3a3a3a","strokeWidth":2},
      "encoding":{"x":{"field":"est","type":"quantitative","scale":{"domain":[0,1],"nice":false,"zero":false},"axis":{"orient":"top","title":"Objective Response Rate"}}}},
     {"transform":[{"filter":"datum.type=='study'"}],"mark":{"type":"point","shape":"square","filled":true,"color":"#2b3aa6","stroke":"#1b1f55","strokeWidth":1,"opacity":1},
      "encoding":{"x":{"field":"est","type":"quantitative","scale":{"domain":[0,1],"nice":false,"zero":false},"axis":{"orient":"bottom","values":[0,0.2,0.4,0.6,0.8,1],"format":"~g","title":null}},
       "y":{"field":"row","type":"quantitative","scale":{"domain":[0.41,16.52],"reverse":true,"nice":false,"zero":false},"axis":null},
       "size":{"field":"w","type":"quantitative","scale":{"type":"linear","domain":[0,20],"range":[0,520]},"legend":null}}},
     {"transform":[{"filter":"datum.type=='study'"}],"mark":{"type":"rule","color":"#3a3a3a","strokeWidth":1.5},
      "encoding":{"x":{"field":"lo","type":"quantitative","scale":{"domain":[0,1],"nice":false,"zero":false},"axis":null},"x2":{"field":"hi"},
       "y":{"field":"row","type":"quantitative","scale":{"domain":[0.41,16.52],"reverse":true,"nice":false,"zero":false},"axis":null}}},
     {"transform":[{"filter":"datum.type=='study'"}],"mark":{"type":"tick","orient":"vertical","color":"#222","thickness":1,"size":7},
      "encoding":{"x":{"field":"est","type":"quantitative","scale":{"domain":[0,1],"nice":false,"zero":false},"axis":null},
       "y":{"field":"row","type":"quantitative","scale":{"domain":[0.41,16.52],"reverse":true,"nice":false,"zero":false},"axis":null}}},
     {"transform":[{"filter":"datum.type=='submodel'||datum.type=='model'"},{"fold":["lo","est","hi"],"as":["k","v"]}],
      "mark":{"type":"line","filled":true,"interpolate":"linear-closed","color":"#6a9fe0","strokeWidth":0,"yOffset":{"expr":"datum.k=='est'?-8:0"}},
      "encoding":{"x":{"field":"v","type":"quantitative","scale":{"domain":[0,1],"nice":false,"zero":false},"axis":null},
       "y":{"field":"row","type":"quantitative","scale":{"domain":[0.41,16.52],"reverse":true,"nice":false,"zero":false},"axis":null},
       "detail":{"field":"row"},"order":{"field":"v","type":"quantitative"}}},
     {"transform":[{"filter":"datum.type=='submodel'||datum.type=='model'"},{"fold":["lo","est","hi"],"as":["k","v"]}],
      "mark":{"type":"line","filled":true,"interpolate":"linear-closed","color":"#6a9fe0","strokeWidth":0,"yOffset":{"expr":"datum.k=='est'?8:0"}},
      "encoding":{"x":{"field":"v","type":"quantitative","scale":{"domain":[0,1],"nice":false,"zero":false},"axis":null},
       "y":{"field":"row","type":"quantitative","scale":{"domain":[0.41,16.52],"reverse":true,"nice":false,"zero":false},"axis":null},
       "detail":{"field":"row"},"order":{"field":"v","type":"quantitative"}}},
     {"transform":[{"filter":"datum.type=='submodel'||datum.type=='model'"},{"fold":["lo","est","hi"],"as":["k","v"]}],
      "mark":{"type":"line","color":"#5d6b7a","strokeWidth":1,"yOffset":{"expr":"datum.k=='est'?-8:0"}},
      "encoding":{"x":{"field":"v","type":"quantitative","scale":{"domain":[0,1],"nice":false,"zero":false},"axis":null},
       "y":{"field":"row","type":"quantitative","scale":{"domain":[0.41,16.52],"reverse":true,"nice":false,"zero":false},"axis":null},
       "detail":{"field":"row"},"order":{"field":"v","type":"quantitative"}}},
     {"transform":[{"filter":"datum.type=='submodel'||datum.type=='model'"},{"fold":["lo","est","hi"],"as":["k","v"]}],
      "mark":{"type":"line","color":"#5d6b7a","strokeWidth":1,"yOffset":{"expr":"datum.k=='est'?8:0"}},
      "encoding":{"x":{"field":"v","type":"quantitative","scale":{"domain":[0,1],"nice":false,"zero":false},"axis":null},
       "y":{"field":"row","type":"quantitative","scale":{"domain":[0.41,16.52],"reverse":true,"nice":false,"zero":false},"axis":null},
       "detail":{"field":"row"},"order":{"field":"v","type":"quantitative"}}}
    ]}
  ],"spacing":12,"bounds":"flush","resolve":{"scale":{"x":"independent","y":"independent"}}}
 ],"spacing":19,"resolve":{"scale":{"x":"independent","y":"independent"}}},
 {"width":1238,"height":48,"data":{"name":"page"},
  "encoding":{"y":{"field":"line","type":"quantitative","scale":{"domain":[0.125,2.125],"reverse":true,"nice":false,"zero":false},"axis":null}},
  "layer":[
   {"transform":[{"filter":"datum.part=='cap1'"}],"mark":{"type":"text","align":"left","font":"Liberation Serif","fontSize":19.4,"fontWeight":"bold","fill":"#111"},"encoding":{"text":{"field":"lead"},"x":{"datum":0,"type":"quantitative","scale":{"domain":[0,1]},"axis":null}}},
   {"transform":[{"filter":"datum.part=='cap1'"}],"mark":{"type":"text","align":"left","font":"Liberation Serif","fontSize":19.4,"fill":"#111"},"encoding":{"text":{"field":"text"},"x":{"datum":0.0275,"type":"quantitative","scale":{"domain":[0,1]},"axis":null}}},
   {"transform":[{"filter":"datum.part=='cap2'"}],"mark":{"type":"text","align":"left","font":"Liberation Serif","fontSize":19.4,"fill":"#111"},"encoding":{"text":{"field":"text"},"x":{"datum":0,"type":"quantitative","scale":{"domain":[0,1]},"axis":null}}}
  ]}
]
}
